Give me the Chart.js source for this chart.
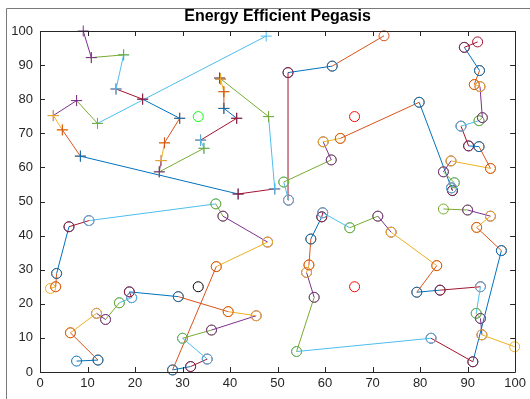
<!DOCTYPE html>
<html>
<head>
<meta charset="utf-8">
<script src="https://cdn.jsdelivr.net/npm/chart.js@4"></script>
<style>
  html, body { margin: 0; padding: 0; background: #fff; }
  #wrap { width: 530px; height: 399px; }
</style>
</head>
<body>
<div id="wrap"><canvas id="chart" width="530" height="399"></canvas></div>
<script>
// node chains, in the order they were linked (25 nodes each)
const chainAX = [7.7, 12.2, 6.4, 11.9, 13.8, 16.7, 19.3, 18.8, 29.1, 39.6, 45.5, 36.1, 30.0, 35.2, 31.7, 27.9, 37.1, 47.9, 38.5, 37.0, 10.3, 6.1, 3.5, 3.3, 2.2];
const chainAY = [3.2, 3.5, 11.5, 17.2, 15.4, 20.3, 21.8, 23.5, 22.1, 17.7, 16.5, 12.3, 9.9, 3.8, 1.6, 0.6, 30.9, 38.1, 45.7, 49.3, 44.4, 42.6, 28.9, 25.0, 24.5];

const chainBX = [9.1, 10.8, 17.6, 16.0, 21.6, 29.4, 26.2, 25.5, 25.1, 34.5, 33.8, 41.4, 38.7, 38.7, 38.0, 37.8, 48.1, 49.4, 41.7, 8.5, 4.7, 2.8, 7.7, 12.1, 47.6];
const chainBY = [100, 92.2, 93.0, 83.0, 80.0, 74.4, 67.2, 62.0, 58.7, 65.6, 68.0, 74.4, 77.3, 82.2, 85.9, 86.2, 74.9, 53.7, 52.2, 63.3, 71.0, 75.2, 79.6, 72.9, 98.5];

const chainCX = [92.1, 89.3, 92.5, 91.4, 92.6, 93.1, 92.4, 88.6, 90.2, 92.4, 94.8, 86.5, 84.9, 87.2, 86.6, 86.8, 79.8, 63.2, 59.6, 61.3, 51.3, 52.3, 52.2, 61.5, 72.4];
const chainCY = [96.8, 95.2, 88.4, 84.3, 83.7, 74.6, 73.7, 72.1, 66.3, 66.1, 59.7, 61.9, 58.7, 55.5, 54.0, 53.2, 79.1, 68.5, 67.5, 62.2, 55.7, 50.4, 87.8, 89.7, 98.6];

const chainDX = [99.9, 93.0, 92.7, 91.8, 92.7, 84.2, 79.3, 83.5, 73.9, 71.1, 65.2, 59.5, 59.3, 57.0, 56.6, 56.1, 57.7, 54.0, 82.3, 91.1, 97.1, 91.9, 94.8, 90.0, 84.9];
const chainDY = [7.4, 10.9, 15.7, 17.2, 25.0, 24.0, 23.4, 31.2, 41.0, 45.7, 42.3, 46.7, 45.5, 39.0, 31.4, 29.2, 21.9, 6.0, 9.9, 3.0, 35.6, 42.4, 45.7, 47.5, 47.8];

// chain leaders
const headX = [33.3, 66.2, 33.3, 66.2];
const headY = [74.9, 74.9, 25.0, 25.0];

const xTicks = [0, 10, 20, 30, 40, 50, 60, 70, 80, 90, 100];
const yTicks = [0, 10, 20, 30, 40, 50, 60, 70, 80, 90, 100];

const palette = ['#0072BD', '#D95319', '#EDB120', '#7E2F8E', '#77AC30', '#4DBEEE', '#A2142F'];
const headColors = ['#00FF00', '#FF0000', '#000000', '#FF0000'];
const axisColor = '#262626';

const chains = [
    { xs: chainAX, ys: chainAY, marker: 'circle' },
    { xs: chainBX, ys: chainBY, marker: 'cross' },
    { xs: chainCX, ys: chainCY, marker: 'circle' },
    { xs: chainDX, ys: chainDY, marker: 'circle' }
];

// one dataset per link, colours cycle like the default colour order
const datasets = [];
let k = 0;
chains.forEach(c => {
    for (let i = 0; i < c.xs.length - 1; i++) {
        const col = palette[k % palette.length];
        k++;
        datasets.push({
            data: [{ x: c.xs[i], y: c.ys[i] }, { x: c.xs[i + 1], y: c.ys[i + 1] }],
            showLine: true,
            borderColor: col,
            borderWidth: 1,
            backgroundColor: 'rgba(0,0,0,0)',
            pointStyle: c.marker,
            pointRadius: c.marker === 'cross' ? 5.5 : 5,
            pointBorderColor: col,
            pointBorderWidth: 1,
            pointBackgroundColor: 'rgba(0,0,0,0)',
            clip: false
        });
    }
});

headX.forEach((x, i) => {
    datasets.push({
        data: [{ x: x, y: headY[i] }],
        showLine: false,
        pointStyle: 'circle',
        pointRadius: 5,
        pointBorderColor: headColors[i],
        pointBorderWidth: 1,
        pointBackgroundColor: 'rgba(0,0,0,0)',
        clip: false
    });
});

// box, inward ticks and the figure frame
const boxPlugin = {
    id: 'box',
    afterDraw(chart) {
        const ctx = chart.ctx;
        const a = chart.chartArea;
        const xs = chart.scales.x, ys = chart.scales.y;
        ctx.save();
        ctx.strokeStyle = '#7a7a7a';
        ctx.lineWidth = 1;
        ctx.beginPath();
        ctx.moveTo(6.5, 399);
        ctx.lineTo(6.5, 8.5);
        ctx.lineTo(530, 8.5);
        ctx.stroke();

        ctx.strokeStyle = axisColor;
        ctx.beginPath();
        ctx.rect(Math.round(a.left) + 0.5, Math.round(a.top) + 0.5,
                 Math.round(a.right - a.left), Math.round(a.bottom - a.top));
        ctx.stroke();
        const len = 5;
        ctx.beginPath();
        xTicks.forEach(v => {
            const px = Math.round(xs.getPixelForValue(v)) + 0.5;
            ctx.moveTo(px, a.bottom); ctx.lineTo(px, a.bottom - len);
            ctx.moveTo(px, a.top); ctx.lineTo(px, a.top + len);
        });
        yTicks.forEach(v => {
            const py = Math.round(ys.getPixelForValue(v)) + 0.5;
            ctx.moveTo(a.left, py); ctx.lineTo(a.left + len, py);
            ctx.moveTo(a.right, py); ctx.lineTo(a.right - len, py);
        });
        ctx.stroke();
        ctx.restore();
    }
};

new Chart(document.getElementById('chart'), {
    type: 'scatter',
    data: { datasets: datasets },
    options: {
        responsive: false,
        animation: false,
        layout: { padding: { left: 0, right: 12, top: 0, bottom: 0 } },
        plugins: {
            legend: { display: false },
            tooltip: { enabled: false },
            title: {
                display: true,
                text: 'Energy Efficient Pegasis',
                color: '#000',
                fullSize: false,
                font: { family: 'Liberation Sans, Arial, sans-serif', size: 16, weight: 'bold' },
                padding: { top: 7.4, bottom: 4.4 }
            }
        },
        scales: {
            x: {
                type: 'linear',
                min: 0, max: 100,
                afterFit: s => { s.height = 27; },
                afterBuildTicks: s => { s.ticks = xTicks.map(v => ({ value: v })); },
                grid: { drawOnChartArea: false, drawTicks: false },
                border: { display: false },
                ticks: {
                    color: axisColor, padding: 4, maxRotation: 0,
                    font: { family: 'Liberation Sans, Arial, sans-serif', size: 13 }
                }
            },
            y: {
                type: 'linear',
                min: 0, max: 100,
                afterFit: s => { s.width = 40; },
                afterBuildTicks: s => { s.ticks = yTicks.map(v => ({ value: v })); },
                grid: { drawOnChartArea: false, drawTicks: false },
                border: { display: false },
                ticks: {
                    color: axisColor, padding: 7,
                    font: { family: 'Liberation Sans, Arial, sans-serif', size: 13 }
                }
            }
        }
    },
    plugins: [boxPlugin]
});
</script>
</body>
</html>
